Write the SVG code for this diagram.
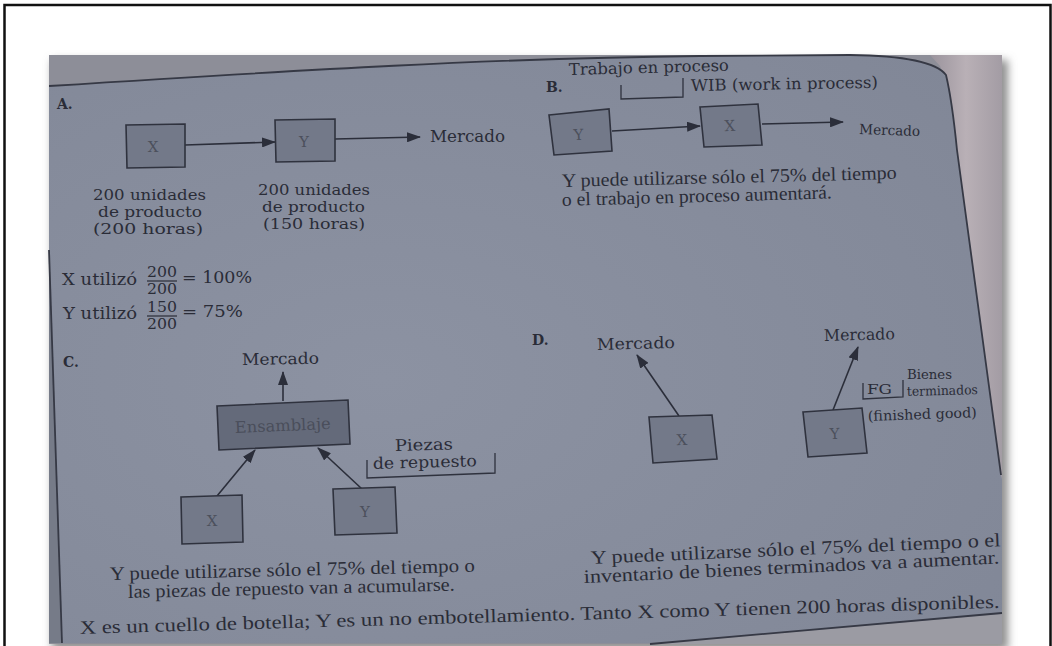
<svg xmlns="http://www.w3.org/2000/svg" width="1052" height="646" viewBox="0 0 1052 646">
  <defs>
    <style>
      text { font-family: "DejaVu Serif", "Liberation Serif", serif; fill: #2a2c37; }
      .t16 { font-size: 16px; }
      .t14 { font-size: 14px; }
      .t13 { font-size: 13px; }
      text.cap { font-family: "Liberation Serif", serif; font-size: 19px; }
      .lbl { font-size: 14px; font-weight: bold; }
      .in { font-size: 15px; fill: #4c505c; text-anchor: middle; }
      .box { fill: #737989; stroke: #2f323e; stroke-width: 1.6; }
      .dark { fill: #646a7a; }
      .edge { fill: none; stroke: #363945; stroke-width: 1.8; }
      .brk { fill: none; stroke: #2f323e; stroke-width: 1.3; }
      .con { fill: none; stroke: #2b2e3a; stroke-width: 1.6; marker-end: url(#ah); }
    </style>
    <marker id="ah" viewBox="0 0 14 10" refX="13" refY="5" markerWidth="14" markerHeight="10" markerUnits="userSpaceOnUse" orient="auto">
      <path d="M0,0 L14,5 L0,10 z" fill="#2b2e3a"/>
    </marker>
    <linearGradient id="outside" x1="0" y1="0" x2="1" y2="0">
      <stop offset="0" stop-color="#9a939c"/>
      <stop offset="0.5" stop-color="#b9b0b6"/>
      <stop offset="1" stop-color="#a39ca4"/>
    </linearGradient>
    <radialGradient id="paper" cx="0.35" cy="0.55" r="0.8">
      <stop offset="0" stop-color="#8c92a2"/>
      <stop offset="1" stop-color="#818797"/>
    </radialGradient>
    <filter id="soft" x="-5%" y="-5%" width="110%" height="110%">
      <feGaussianBlur stdDeviation="4"/>
    </filter>
  </defs>

  <rect width="1052" height="646" fill="#ffffff"/>

  <!-- outer frame -->
  <g id="frame" stroke="#111" stroke-width="2.5" fill="none">
    <path d="M4.5,646 V5 H1050.5 V646"/>
  </g>

  <!-- photographed page -->
  <g id="photo">
    <rect x="52" y="60" width="956" height="590" fill="#8f8f8f" filter="url(#soft)"/>
    <rect x="49" y="55" width="953" height="589" fill="#8d8e98"/>
    <polygon points="930,55 1002,55 1002,480 1000,473 957,150 950,90 940,66" fill="url(#outside)"/>
    <path d="M49,86 C300,70 500,58 700,56 L850,55 Q932,56 946,75 Q952,100 957,150 L1000,470 L1002,480 L1002,613 L1000,614 L650,643 L62,643 L49,250 Z" fill="url(#paper)"/>
    <polygon points="49,250 62,643 49,643" fill="#767b88"/>
    <polygon points="650,644 1000,614 1002,613 1002,644" fill="#9b9ba3"/>
    <path class="edge" d="M49,86 C300,70 500,58 700,56 L850,55 Q932,56 946,75 Q952,100 957,150 L1001,475"/>
    <path class="edge" d="M650,644 L1002,613"/>
    <path class="edge" d="M49,250 L62,643"/>
  </g>

  <!-- connectors -->
  <g id="connectors">
    <path class="con" d="M185,145 L275,142"/>
    <path class="con" d="M335,139 L420,137"/>
    <path class="con" d="M612,131 L700,126"/>
    <path class="con" d="M762,124 L843,122"/>
    <path class="con" d="M283,401 L283,372"/>
    <path class="con" d="M217,496 L255,450"/>
    <path class="con" d="M362,489 L318,448"/>
    <path class="con" d="M679,416 L637,355"/>
    <path class="con" d="M833,410 L858,347"/>
  </g>

  <!-- A -->
  <g id="section-a">
    <text class="lbl" x="57" y="109">A.</text>
    <text class="t16" x="430" y="142" textLength="75" lengthAdjust="spacingAndGlyphs">Mercado</text>
    <text class="t14" x="93" y="200" textLength="113" lengthAdjust="spacingAndGlyphs">200 unidades</text>
    <text class="t14" x="98" y="217" textLength="104" lengthAdjust="spacingAndGlyphs">de producto</text>
    <text class="t14" x="93" y="234" textLength="110" lengthAdjust="spacingAndGlyphs">(200 horas)</text>
    <text class="t14" x="258" y="195" textLength="112" lengthAdjust="spacingAndGlyphs">200 unidades</text>
    <text class="t14" x="262" y="212" textLength="103" lengthAdjust="spacingAndGlyphs">de producto</text>
    <text class="t14" x="263" y="229" textLength="102" lengthAdjust="spacingAndGlyphs">(150 horas)</text>
  </g>
  <g id="node-a-x">
    <polygon class="box" points="126,125 185,124 185,167 127,168"/>
    <text class="in" x="153" y="152">X</text>
  </g>
  <g id="node-a-y">
    <polygon class="box" points="275,120 335,119 335,161 276,162"/>
    <text class="in" x="304" y="147">Y</text>
  </g>

  <!-- utilisation -->
  <g id="utilization">
    <text class="t16" x="62" y="285" textLength="75" lengthAdjust="spacingAndGlyphs">X utilizó</text>
    <text class="t14" x="147" y="277" textLength="30" lengthAdjust="spacingAndGlyphs">200</text>
    <line x1="147" y1="281" x2="177" y2="281" stroke="#2a2c37" stroke-width="1.2"/>
    <text class="t14" x="147" y="294" textLength="30" lengthAdjust="spacingAndGlyphs">200</text>
    <text class="t16" x="182" y="283" textLength="70" lengthAdjust="spacingAndGlyphs">= 100%</text>
    <text class="t16" x="63" y="319" textLength="74" lengthAdjust="spacingAndGlyphs">Y utilizó</text>
    <text class="t14" x="147" y="312" textLength="30" lengthAdjust="spacingAndGlyphs">150</text>
    <line x1="147" y1="316" x2="177" y2="316" stroke="#2a2c37" stroke-width="1.2"/>
    <text class="t14" x="147" y="329" textLength="30" lengthAdjust="spacingAndGlyphs">200</text>
    <text class="t16" x="182" y="317" textLength="61" lengthAdjust="spacingAndGlyphs">= 75%</text>
  </g>

  <!-- B -->
  <g id="section-b">
    <text class="lbl" x="546" y="92">B.</text>
    <text class="t16" x="569" y="75" textLength="160" lengthAdjust="spacingAndGlyphs" transform="rotate(-1.5 569 75)">Trabajo en proceso</text>
    <polyline class="brk" points="621,85 621,99 683,97 683,78"/>
    <text class="t16" x="691" y="91" textLength="187" lengthAdjust="spacingAndGlyphs" transform="rotate(-1 691 91)">WIB (work in process)</text>
    <text class="t14" x="859" y="134" textLength="61" lengthAdjust="spacingAndGlyphs" transform="rotate(2 859 134)">Mercado</text>
    <text class="cap" x="562" y="187" textLength="335" lengthAdjust="spacingAndGlyphs" transform="rotate(-1.4 562 187)">Y puede utilizarse sólo el 75% del tiempo</text>
    <text class="cap" x="562" y="206" textLength="270" lengthAdjust="spacingAndGlyphs" transform="rotate(-1.6 562 206)">o el trabajo en proceso aumentará.</text>
  </g>
  <g id="node-b-y">
    <polygon class="box" points="549,115 609,109 612,151 554,155"/>
    <text class="in" x="579" y="140" transform="rotate(-4 579 140)">Y</text>
  </g>
  <g id="node-b-x">
    <polygon class="box" points="700,107 758,104 762,145 704,147"/>
    <text class="in" x="730" y="131" transform="rotate(-3 730 131)">X</text>
  </g>

  <!-- C -->
  <g id="section-c">
    <text class="lbl" x="63" y="367">C.</text>
    <text class="t16" x="242" y="365" textLength="77" lengthAdjust="spacingAndGlyphs" transform="rotate(-1 242 365)">Mercado</text>
    <text class="t16" x="395" y="451" textLength="58" lengthAdjust="spacingAndGlyphs" transform="rotate(-1.5 395 451)">Piezas</text>
    <text class="t16" x="373" y="469" textLength="104" lengthAdjust="spacingAndGlyphs" transform="rotate(-1.5 373 469)">de repuesto</text>
    <polyline class="brk" points="367,460 367,478 495,473 495,453"/>
    <text class="cap" x="110" y="580" textLength="365" lengthAdjust="spacingAndGlyphs" transform="rotate(-1.3 110 580)">Y puede utilizarse sólo el 75% del tiempo o</text>
    <text class="cap" x="128" y="598" textLength="327" lengthAdjust="spacingAndGlyphs" transform="rotate(-1.3 128 598)">las piezas de repuesto van a acumularse.</text>
  </g>
  <g id="node-c-assembly">
    <polygon class="box dark" points="217,406 348,400 350,444 219,450"/>
    <text class="t16" x="283" y="431" text-anchor="middle" style="fill:#4a4e5b" textLength="96" lengthAdjust="spacingAndGlyphs" transform="rotate(-2.5 283 431)">Ensamblaje</text>
  </g>
  <g id="node-c-x">
    <polygon class="box" points="181,497 242,495 243,542 182,544"/>
    <text class="in" x="212" y="526">X</text>
  </g>
  <g id="node-c-y">
    <polygon class="box" points="333,489 395,487 397,533 335,535"/>
    <text class="in" x="365" y="517">Y</text>
  </g>

  <!-- D -->
  <g id="section-d">
    <text class="lbl" x="532" y="345">D.</text>
    <text class="t16" x="597" y="350" textLength="78" lengthAdjust="spacingAndGlyphs" transform="rotate(-1.5 597 350)">Mercado</text>
    <text class="t16" x="824" y="341" textLength="71" lengthAdjust="spacingAndGlyphs" transform="rotate(-1.5 824 341)">Mercado</text>
    <polyline class="brk" points="863,383 863,399 903,397 903,380"/>
    <text class="t13" x="867" y="394" textLength="25" lengthAdjust="spacingAndGlyphs">FG</text>
    <text class="t13" x="907" y="379" textLength="45" lengthAdjust="spacingAndGlyphs">Bienes</text>
    <text class="t13" x="907" y="396" textLength="71" lengthAdjust="spacingAndGlyphs" transform="rotate(-1.5 907 396)">terminados</text>
    <text class="t14" x="868" y="421" textLength="109" lengthAdjust="spacingAndGlyphs" transform="rotate(-2 868 421)">(finished good)</text>
    <text class="cap" x="591" y="564" textLength="410" lengthAdjust="spacingAndGlyphs" transform="rotate(-2.5 591 564)">Y puede utilizarse sólo el 75% del tiempo o el</text>
    <text class="cap" x="584" y="583" textLength="416" lengthAdjust="spacingAndGlyphs" transform="rotate(-2.7 584 583)">inventario de bienes terminados va a aumentar.</text>
  </g>
  <g id="node-d-x">
    <polygon class="box" points="649,417 712,415 717,459 653,463"/>
    <text class="in" x="682" y="445" transform="rotate(-2 682 445)">X</text>
  </g>
  <g id="node-d-y">
    <polygon class="box" points="803,412 862,408 867,453 808,457"/>
    <text class="in" x="835" y="439" transform="rotate(-3 835 439)">Y</text>
  </g>

  <!-- closing remark -->
  <g id="footnote">
    <text class="cap" x="80" y="634" textLength="920" lengthAdjust="spacingAndGlyphs" transform="rotate(-1.63 80 634)">X es un cuello de botella;  Y es un no embotellamiento. Tanto X como Y tienen 200 horas disponibles.</text>
  </g>
</svg>
